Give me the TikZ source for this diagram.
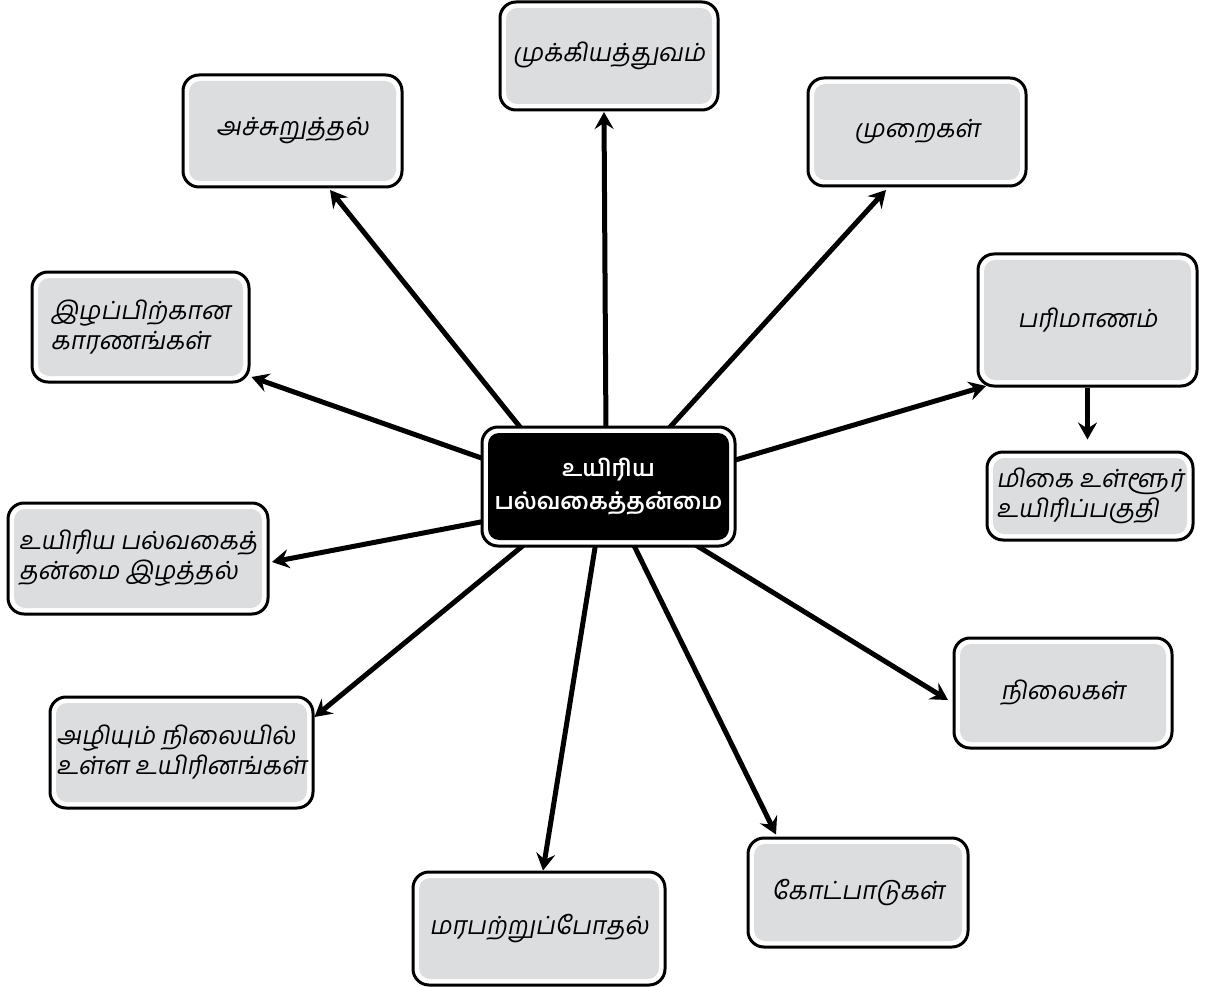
\documentclass[tikz,border=0pt]{standalone}
\usepackage{fontspec}
\newfontfamily\tamilit[Script=Tamil,FakeSlant=0.18]{Hind Madurai}
\newfontfamily\tamilup[Script=Tamil]{Hind Madurai}
\usetikzlibrary{arrows.meta,calc,backgrounds}
\definecolor{boxgray}{RGB}{220,221,223}
\begin{document}
\begin{tikzpicture}[x=1pt,y=-1pt,
  topic/.style={draw=black, line width=3pt, fill=white, rounded corners=16pt,
    inner sep=0pt, align=left, font=\tamilit\fontsize{25}{30}\selectfont,
    path picture={\fill[boxgray, rounded corners=11pt]
      ([shift={(6pt,-6pt)}]path picture bounding box.north west) rectangle
      ([shift={(-6pt,6pt)}]path picture bounding box.south east);}},
  hub/.style={draw=black, line width=3pt, fill=white, rounded corners=16pt,
    inner sep=0pt, align=center, text=white, font=\tamilup\bfseries\fontsize{23}{33}\selectfont,
    path picture={\fill[black, rounded corners=11pt]
      ([shift={(6pt,-6pt)}]path picture bounding box.north west) rectangle
      ([shift={(-6pt,6pt)}]path picture bounding box.south east);}},
  conn/.style={line width=5pt, -{Stealth[length=17pt,width=19pt,inset=6pt]}}]

\useasboundingbox (0,0) rectangle (1213,987);

% central concept
\node[hub, minimum width=253pt, minimum height=119pt] (c) at (608.5,486.5)
  {உயிரிய\\பல்வகைத்தன்மை};

% surrounding topics
\node[topic, minimum width=218pt, minimum height=108pt] (imp) at (609,56) {முக்கியத்துவம்};
\node[topic, minimum width=219pt, minimum height=112pt] (thr) at (292.5,131) {அச்சுறுத்தல்};
\node[topic, minimum width=218pt, minimum height=108pt] (meth) at (917,132) {முறைகள்};
\node[topic, minimum width=217pt, minimum height=110pt] (cause) at (140.5,327) {இழப்பிற்கான\\காரணங்கள்};
\node[topic, minimum width=219pt, minimum height=132pt] (dim) at (1087.5,320) {பரிமாணம்};
\node[topic, minimum width=206pt, minimum height=88pt] (hot) at (1090,496) {மிகை உள்ளூர்\\உயிரிப்பகுதி};
\node[topic, minimum width=260pt, minimum height=111pt] (loss) at (138,558.5) {உயிரிய பல்வகைத்\\தன்மை இழத்தல்};
\node[topic, minimum width=218pt, minimum height=110pt] (lev) at (1063,693) {நிலைகள்};
\node[topic, minimum width=263pt, minimum height=111pt] (endg) at (181.5,752.5) {அழியும் நிலையில்\\உள்ள உயிரினங்கள்};
\node[topic, minimum width=220pt, minimum height=109pt] (theo) at (858,892.5) {கோட்பாடுகள்};
\node[topic, minimum width=252pt, minimum height=113pt] (gen) at (539,928.5) {மரபற்றுப்போதல்};

% connectors, tucked behind the boxes
\begin{scope}[on background layer]
  \fill[white] (0,0) rectangle (1213,987);
  \draw[conn] ($(c)+(-2.5,-50)$) -- ($(imp)+(-5,56)$);
  \draw[conn] ($(c)+(-68.5,-34.5)$) -- ($(thr)+(37.5,59)$);
  \draw[conn] ($(c)+(57.5,-55)$) -- ($(meth)+(-31,58)$);
  \draw[conn] ($(c)+(-120,-26)$) -- ($(cause)+(111,50)$);
  \draw[conn] ($(c)+(120,-24.5)$) -- ($(dim)+(-101.5,66)$);
  \draw[conn] ($(c)+(-120,34)$) -- ($(loss)+(134,3.5)$);
  \draw[conn] ($(c)+(-80.5,55)$) -- ($(endg)+(133,-35.5)$);
  \draw[conn] ($(c)+(-12.5,55)$) -- ($(gen)+(4,-58)$);
  \draw[conn] ($(c)+(23.5,55)$) -- ($(theo)+(-82,-58)$);
  \draw[conn] ($(c)+(81.5,55)$) -- ($(lev)+(-115,7)$);
\end{scope}
\draw[conn] (dim.south) -- ($(dim.south)+(0,52)$) coordinate (hotin);
\end{tikzpicture}
\end{document}
